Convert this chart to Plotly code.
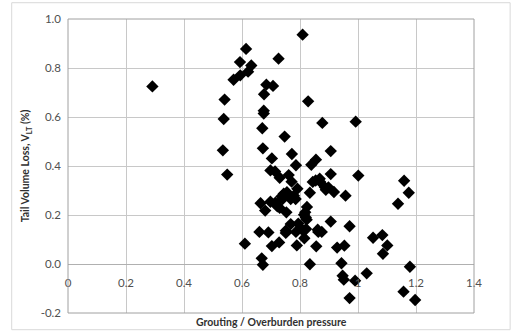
import plotly.graph_objects as go

x_vals = [0.291, 0.809, 0.614, 0.593, 0.726, 0.632, 0.621, 0.594, 0.571, 0.684,
          0.707, 0.676, 0.540, 0.828, 0.675, 0.675, 0.537, 0.992, 0.877, 0.670,
          0.747, 0.672, 0.534, 0.906, 0.772, 0.703, 0.855, 0.786, 0.839, 0.549,
          0.698, 0.714, 0.761, 0.906, 1.001, 0.730, 0.771, 0.844, 0.854, 0.868,
          0.869, 1.159, 0.886, 0.898, 0.889, 0.791, 0.917, 0.834, 1.175, 0.755,
          0.744, 0.736, 0.957, 0.779, 0.768, 0.785, 0.740, 0.664, 0.698, 0.715,
          1.138, 0.722, 0.730, 0.824, 0.680, 0.753, 0.818, 0.814, 0.820, 0.823,
          0.906, 0.768, 0.794, 0.971, 0.660, 0.691, 0.751, 0.751, 0.786, 0.808,
          0.821, 0.861, 0.863, 0.875, 0.815, 1.052, 1.084, 1.101, 1.086, 0.610,
          0.703, 0.728, 0.789, 0.856, 0.928, 0.953, 0.668, 0.672, 0.834, 0.943,
          0.947, 0.951, 0.990, 1.030, 1.179, 0.971, 1.157, 1.197]
y_vals = [0.725, 0.936, 0.878, 0.824, 0.838, 0.810, 0.785, 0.770, 0.752, 0.732,
          0.727, 0.693, 0.671, 0.664, 0.626, 0.614, 0.592, 0.581, 0.576, 0.554,
          0.520, 0.472, 0.464, 0.461, 0.449, 0.431, 0.426, 0.403, 0.405, 0.365,
          0.382, 0.378, 0.363, 0.367, 0.361, 0.352, 0.336, 0.335, 0.341, 0.348,
          0.336, 0.340, 0.313, 0.313, 0.303, 0.307, 0.294, 0.291, 0.291, 0.293,
          0.287, 0.276, 0.279, 0.279, 0.265, 0.265, 0.265, 0.248, 0.254, 0.250,
          0.246, 0.235, 0.229, 0.233, 0.218, 0.211, 0.211, 0.201, 0.190, 0.181,
          0.173, 0.163, 0.165, 0.154, 0.131, 0.129, 0.136, 0.127, 0.131, 0.140,
          0.143, 0.140, 0.131, 0.131, 0.105, 0.107, 0.118, 0.076, 0.042, 0.083,
          0.073, 0.088, 0.076, 0.072, 0.067, 0.075, 0.023, -0.003, -0.001, 0.003,
          -0.048, -0.064, -0.068, -0.038, -0.011, -0.139, -0.113, -0.147]

x_ticks = [0, 0.2, 0.4, 0.6, 0.8, 1.0, 1.2, 1.4]
x_ticktext = ["0", "0.2", "0.4", "0.6", "0.8", "1", "1.2", "1.4"]
y_ticks = [-0.2, 0.0, 0.2, 0.4, 0.6, 0.8, 1.0]
y_ticktext = ["-0.2", "0.0", "0.2", "0.4", "0.6", "0.8", "1.0"]

FONT = "Lato"
GRID = "#c8c8c8"

fig = go.Figure()
fig.add_trace(go.Scatter(
    x=x_vals, y=y_vals, mode="markers",
    marker=dict(symbol="diamond", size=9.5, color="#000000", line=dict(width=0)),
    showlegend=False,
))

fig.update_layout(
    width=512, height=333,
    margin=dict(l=68, r=38, t=19, b=20),
    paper_bgcolor="white", plot_bgcolor="white",
    font=dict(family=FONT, size=11, color="#404040"),
    xaxis=dict(
        range=[0, 1.4], tickvals=x_ticks, ticktext=x_ticktext,
        showgrid=True, gridcolor=GRID, gridwidth=1,
        zeroline=False, showline=False, ticks="",
        anchor="free", position=1/6, ticklabelstandoff=10,
        tickfont=dict(family=FONT, size=11.5, color="#505050"),
    ),
    yaxis=dict(
        range=[-0.2, 1.0], tickvals=y_ticks, ticktext=y_ticktext,
        showgrid=True, gridcolor=GRID, gridwidth=1,
        zeroline=True, zerolinecolor="#b0b0b0", zerolinewidth=1,
        showline=False, ticks="", ticklabelstandoff=6,
        tickfont=dict(family=FONT, size=11.5, color="#505050"),
        title=dict(text="Tail Volume Loss, V<sub>LT</sub> (%)",
                   font=dict(family=FONT, size=10.5, color="#303030", weight="bold"),
                   standoff=8),
    ),
    shapes=[
        dict(type="rect", xref="paper", yref="paper", x0=0, x1=1, y0=0, y1=1,
             line=dict(color="#a0a0a0", width=1), layer="above"),
        dict(type="rect", xref="paper", yref="paper", x0=-0.1387, x1=1.089, y0=-0.0568, y1=1.0554,
             line=dict(color="#d9d9d9", width=1), layer="above"),
    ],
    annotations=[
        dict(text="Grouting / Overburden pressure", xref="paper", yref="paper",
             x=0.5, y=-0.0296, xanchor="center", yanchor="middle", showarrow=False,
             font=dict(family=FONT, size=10.5, color="#303030", weight="bold")),
    ],
)

fig.write_html(
    "out.html",
    config={"displayModeBar": False},
    post_script="document.body.style.margin='0';document.body.style.overflow='hidden';",
)
